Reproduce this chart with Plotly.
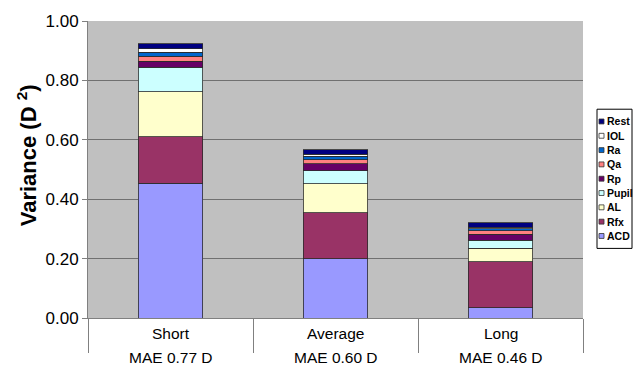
import plotly.graph_objects as go

# Variance components of the prediction error per axial-length group
categories = ["Short", "Average", "Long"]
mae_labels = ["MAE 0.77 D", "MAE 0.60 D", "MAE 0.46 D"]

ACD = [0.454, 0.199, 0.035]
Rfx = [0.156, 0.156, 0.154]
AL = [0.152, 0.097, 0.046]
Pupil = [0.082, 0.043, 0.026]
Rp = [0.020, 0.024, 0.021]
Qa = [0.017, 0.014, 0.012]
Ra = [0.014, 0.012, 0.007]
IOL = [0.011, 0.006, 0.005]
Rest = [0.017, 0.015, 0.014]

y_ticks = [0.0, 0.2, 0.4, 0.6, 0.8, 1.0]

series = [
    ("ACD", ACD, "#9999FF"),
    ("Rfx", Rfx, "#993366"),
    ("AL", AL, "#FFFFCC"),
    ("Pupil", Pupil, "#CCFFFF"),
    ("Rp", Rp, "#660066"),
    ("Qa", Qa, "#FF8080"),
    ("Ra", Ra, "#0066CC"),
    ("IOL", IOL, "#FFFFFF"),
    ("Rest", Rest, "#000080"),
]

FONT = "Liberation Sans, Arial, sans-serif"
W, H = 641, 369
ML, MR, MT, MB = 88, 58, 15, 51
PW, PH = W - ML - MR, H - MT - MB

fig = go.Figure()
for name, vals, color in series:
    fig.add_trace(go.Bar(
        x=categories, y=vals, name=name,
        marker=dict(color=color, line=dict(color="#2a2a2a", width=0.8)),
        showlegend=False,
    ))

# Two-line category labels under the axis
for cat, mae in zip(categories, mae_labels):
    fig.add_annotation(x=cat, y=0, xref="x", yref="y", text=cat, showarrow=False,
                       yanchor="middle", yshift=-15,
                       font=dict(family=FONT, size=15.5, color="#000"))
    fig.add_annotation(x=cat, y=0, xref="x", yref="y", text=mae, showarrow=False,
                       yanchor="middle", yshift=-39,
                       font=dict(family=FONT, size=15.5, color="#000"))

# Y axis title
fig.add_annotation(x=(27 - ML) / PW, y=(H - MB - 152) / PH, xref="paper", yref="paper",
                   text="<b>Variance (D <sup>2</sup>)</b>", textangle=-90, showarrow=False,
                   xanchor="center", yanchor="middle",
                   font=dict(family=FONT, size=22, color="#000"))

# Legend box on the right, entries listed top-down from Rest to ACD
def px_x(px):
    return (px - ML) / PW

def px_y(py):
    return (H - MB - py) / PH

box_l, box_r, box_t, box_b = 597, 632, 105, 247
fig.add_shape(type="rect", xref="paper", yref="paper",
              x0=px_x(box_l), x1=px_x(box_r), y0=px_y(box_b), y1=px_y(box_t),
              line=dict(color="#000", width=1), fillcolor="#FFFFFF", layer="above")
row0, step = 117.5, 14.6
for i, (name, _, color) in enumerate(reversed(series)):
    cy = row0 + i * step
    fig.add_shape(type="rect", xref="paper", yref="paper",
                  x0=px_x(599), x1=px_x(604), y0=px_y(cy + 2.5), y1=px_y(cy - 2.5),
                  line=dict(color="#333", width=0.8), fillcolor=color, layer="above")
    fig.add_annotation(x=px_x(604.5), y=px_y(cy), xref="paper", yref="paper",
                       text="<b>" + name + "</b>", showarrow=False, xanchor="left",
                       yanchor="middle",
                       font=dict(family=FONT, size=10.5, color="#000"))

fig.update_layout(
    width=W, height=H,
    margin=dict(l=ML, r=MR, t=MT, b=MB),
    barmode="stack", bargap=0.61,
    plot_bgcolor="#C0C0C0", paper_bgcolor="#FFFFFF",
    font=dict(family=FONT, size=17, color="#000"),
    xaxis=dict(
        showticklabels=False, ticks="outside", tickson="boundaries",
        ticklen=34, tickcolor="#808080", tickwidth=1,
        showline=True, linecolor="#808080", linewidth=1,
        showgrid=False,
    ),
    yaxis=dict(
        range=[0, 1], tickvals=y_ticks, tickformat=".2f",
        ticks="outside", ticklen=5, tickcolor="#808080",
        showline=True, linecolor="#808080", linewidth=1,
        showgrid=True, gridcolor="#707070", gridwidth=1.2,
        zeroline=False,
        tickfont=dict(family=FONT, size=17, color="#000"),
    ),
)

fig.write_html("out.html")
